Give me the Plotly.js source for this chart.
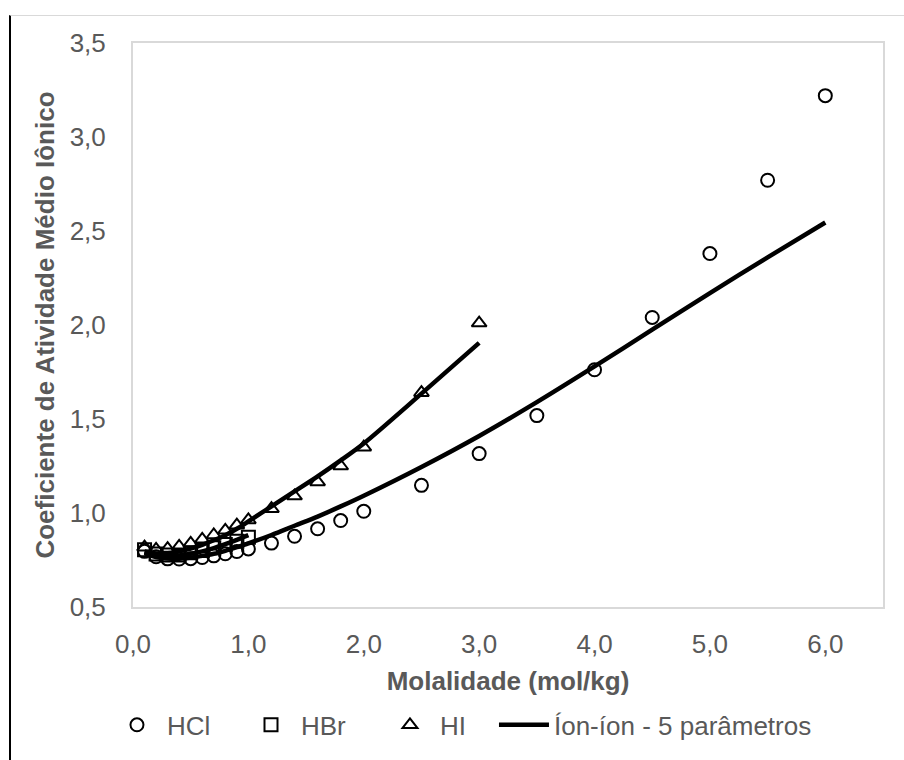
<!DOCTYPE html>
<html>
<head>
<meta charset="utf-8">
<script src="https://cdn.plot.ly/plotly-3.0.1.min.js"></script>
<style>
  html, body { margin: 0; padding: 0; background: #ffffff; }
  #wrap { position: relative; width: 904px; height: 760px; }
  #chart { width: 904px; height: 760px; }
  #frame { position: absolute; left: 9px; top: 15px; width: 895px; height: 745px;
           border-left: 2px solid #000000; border-top: 1px solid #d9d9d9;
           box-sizing: border-box; pointer-events: none; }
</style>
</head>
<body>
<div id="wrap">
  <div id="chart"></div>
  <div id="frame"></div>
</div>
<script>
// Experimental data (mean ionic activity coefficient vs molality)
const hclM   = [0.1,0.2,0.3,0.4,0.5,0.6,0.7,0.8,0.9,1.0,1.2,1.4,1.6,1.8,2.0,2.5,3.0,3.5,4.0,4.5,5.0,5.5,6.0];
const hclG   = [0.796,0.767,0.756,0.755,0.757,0.763,0.772,0.783,0.795,0.809,0.840,0.876,0.916,0.960,1.009,1.147,1.316,1.518,1.762,2.040,2.380,2.770,3.220];

const hbrM   = [0.1,0.2,0.3,0.4,0.5,0.6,0.7,0.8,0.9,1.0];
const hbrG   = [0.805,0.782,0.777,0.777,0.789,0.800,0.815,0.832,0.850,0.871];

const hiM    = [0.1,0.2,0.3,0.4,0.5,0.6,0.7,0.8,0.9,1.0,1.2,1.4,1.6,1.8,2.0,2.5,3.0];
const hiG    = [0.818,0.807,0.811,0.823,0.839,0.860,0.883,0.908,0.935,0.963,1.023,1.090,1.165,1.250,1.350,1.640,2.010];

// Model curves (Íon-íon, 5 parâmetros)
const fitHclM = [0.1,0.2,0.3,0.4,0.5,0.6,0.7,0.8,0.9,1.0,1.2,1.4,1.6,1.8,2.0,2.5,3.0,3.5,4.0,4.5,5.0,5.5,6.0];
const fitHclG = [0.787,0.766,0.758,0.757,0.763,0.772,0.783,0.799,0.818,0.838,0.883,0.932,0.981,1.035,1.092,1.245,1.410,1.590,1.780,1.975,2.170,2.360,2.545];

const fitHbrM = [0.1,0.2,0.3,0.4,0.5,0.6,0.7,0.8,0.9,1.0];
const fitHbrG = [0.790,0.773,0.770,0.774,0.783,0.796,0.813,0.834,0.857,0.882];

const fitHiM  = [0.1,0.2,0.3,0.4,0.5,0.6,0.7,0.8,0.9,1.0,1.2,1.4,1.6,1.8,2.0,2.5,3.0];
const fitHiG  = [0.795,0.784,0.786,0.796,0.811,0.831,0.855,0.882,0.916,0.955,1.035,1.115,1.195,1.280,1.370,1.635,1.905];

const xTickVals = [0,1,2,3,4,5,6];
const xTickText = ['0,0','1,0','2,0','3,0','4,0','5,0','6,0'];
const yTickVals = [0.5,1.0,1.5,2.0,2.5,3.0,3.5];
const yTickText = ['0,5','1,0','1,5','2,0','2,5','3,0','3,5'];

const names = ['HCl','HBr','HI','Íon-íon - 5 parâmetros'];

const mk = (sym) => ({ symbol: sym, size: 13, color: '#000000', line: { color: '#000000', width: 2 } });
const lineStyle = { color: '#000000', width: 4.5, shape: 'spline', smoothing: 0.8 };

const traces = [
  { x: hclM, y: hclG, name: names[0], type: 'scatter', mode: 'markers', marker: mk('circle-open'), legend: 'legend' },
  { x: hbrM, y: hbrG, name: names[1], type: 'scatter', mode: 'markers', marker: mk('square-open'), legend: 'legend2' },
  { x: hiM,  y: hiG,  name: names[2], type: 'scatter', mode: 'markers', marker: mk('triangle-up-open'), legend: 'legend3' },
  { x: fitHclM, y: fitHclG, name: names[3], type: 'scatter', mode: 'lines', line: lineStyle, legend: 'legend4', legendgroup: 'fit', showlegend: true },
  { x: fitHbrM, y: fitHbrG, name: names[3], type: 'scatter', mode: 'lines', line: lineStyle, legend: 'legend4', legendgroup: 'fit', showlegend: false },
  { x: fitHiM,  y: fitHiG,  name: names[3], type: 'scatter', mode: 'lines', line: lineStyle, legend: 'legend4', legendgroup: 'fit', showlegend: false }
];

const fontFam = 'Liberation Sans, Arial, sans-serif';
const grey = '#595959';

const legBase = (x, w) => ({ orientation: 'h', x: x, xanchor: 'left', y: -0.209, yanchor: 'middle',
  font: { family: fontFam, size: 26, color: grey }, itemwidth: w, bgcolor: 'rgba(0,0,0,0)' });

const layout = {
  width: 904, height: 760,
  margin: { l: 133, r: 21, t: 43, b: 146 },
  paper_bgcolor: '#ffffff', plot_bgcolor: '#ffffff',
  font: { family: fontFam, size: 26, color: grey },
  showlegend: true,
  legend:  legBase(-0.0347, 50),
  legend2: legBase(0.144, 50),
  legend3: legBase(0.3293, 50),
  legend4: legBase(0.4813, 50),
  xaxis: {
    range: [0, 6.5], tickvals: xTickVals, ticktext: xTickText,
    showgrid: false, zeroline: false, showline: true, linecolor: '#d9d9d9', linewidth: 2, mirror: true,
    ticks: '', ticklabelstandoff: 13,
    tickfont: { family: fontFam, size: 26, color: grey },
    title: { text: '<b>Molalidade (mol/kg)</b>', font: { family: fontFam, size: 26, color: grey }, standoff: 14 }
  },
  yaxis: {
    range: [0.5, 3.5], tickvals: yTickVals, ticktext: yTickText,
    showgrid: false, zeroline: false, showline: true, linecolor: '#d9d9d9', linewidth: 2, mirror: true,
    ticks: '', ticklabelstandoff: 20,
    tickfont: { family: fontFam, size: 26, color: grey },
    title: { text: '<b>Coeficiente de Atividade Médio Iônico</b>', font: { family: fontFam, size: 26, color: grey }, standoff: 8 }
  }
};

Plotly.newPlot('chart', traces, layout, { displayModeBar: false, staticPlot: true });
</script>
</body>
</html>
